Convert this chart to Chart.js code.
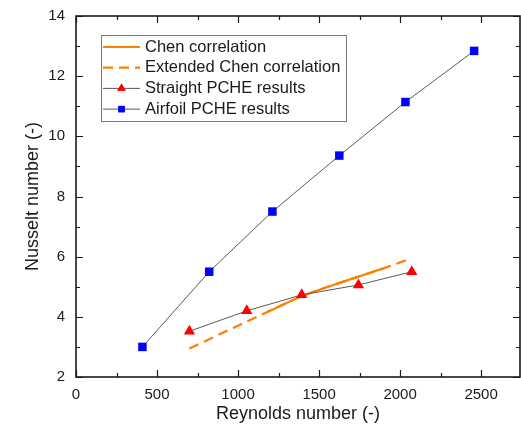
<!DOCTYPE html>
<html><head><meta charset="utf-8">
<script src="https://cdn.jsdelivr.net/npm/chart.js@4/dist/chart.umd.min.js"></script>
<style>html,body{margin:0;padding:0;background:#fff;overflow:hidden}canvas{display:block}</style>
</head><body>
<canvas id="c" width="521" height="431"></canvas>
<script>
// ---- data ----
const seriesNames = ['Chen correlation', 'Extended Chen correlation', 'Straight PCHE results', 'Airfoil PCHE results'];
const chenRe = [1177, 1400, 1650, 1897];
const chenNu = [4.15, 4.70, 5.17, 5.61];
const extRe = [700, 950, 1177, 1400, 1650, 1897, 2072];
const extNu = [2.95, 3.58, 4.15, 4.70, 5.17, 5.61, 5.95];
const straightRe = [700, 1054, 1393, 1743, 2072];
const straightNu = [3.52, 4.20, 4.73, 5.06, 5.50];
const airfoilRe = [410, 822, 1212, 1625, 2033, 2457];
const airfoilNu = [3.00, 5.50, 7.50, 9.36, 11.14, 12.84];
const xTitle = 'Reynolds number (-)';
const yTitle = 'Nusselt number (-)';
const xTickValues = [0, 250, 500, 750, 1000, 1250, 1500, 1750, 2000, 2250, 2500];
const xTickLabels = ['0', '', '500', '', '1000', '', '1500', '', '2000', '', '2500'];
const yTickValues = [2, 3, 4, 5, 6, 7, 8, 9, 10, 11, 12, 13, 14];
const yTickLabels = ['2', '', '4', '', '6', '', '8', '', '10', '', '12', '', '14'];
const xMin = 0, xMax = 2740, yMin = 2, yMax = 14;

const zip = (a, b) => a.map((v, i) => ({x: v, y: b[i]}));
const ORANGE = '#ff8000', GRAY = '#5a5a5a', FONT = "'Liberation Sans', Arial, sans-serif", INK = '#1a1a1a';

const framePlugin = {
  id: 'frame',
  afterDatasetsDraw(chart) {
    const {ctx, chartArea: a, scales: {x, y}} = chart;
    ctx.save();
    ctx.strokeStyle = INK;
    ctx.lineWidth = 1.2;
    ctx.beginPath();
    xTickValues.forEach((v, i) => {
      const px = Math.round(x.getPixelForValue(v)) + 0.5;
      const L = xTickLabels[i] !== '' ? 7 : 4;
      ctx.moveTo(px, a.bottom); ctx.lineTo(px, a.bottom - L);
      ctx.moveTo(px, a.top); ctx.lineTo(px, a.top + L);
    });
    yTickValues.forEach((v, i) => {
      const py = Math.round(y.getPixelForValue(v)) + 0.5;
      const L = yTickLabels[i] !== '' ? 7 : 4;
      ctx.moveTo(a.left, py); ctx.lineTo(a.left + L, py);
      ctx.moveTo(a.right, py); ctx.lineTo(a.right - L, py);
    });
    ctx.stroke();
    ctx.lineWidth = 1.6;
    ctx.strokeRect(a.left, a.top, a.right - a.left, a.bottom - a.top);
    ctx.restore();
  },
  afterDraw(chart) {
    const {ctx, chartArea: a} = chart;
    const bx = a.left + 25, by = a.top + 19, bw = 245, bh = 86;
    ctx.save();
    ctx.fillStyle = '#fff';
    ctx.fillRect(bx, by, bw, bh);
    ctx.strokeStyle = '#7a7a7a';
    ctx.lineWidth = 1;
    ctx.strokeRect(bx + 0.5, by + 0.5, bw, bh);
    const rowH = 20.7, x0 = bx + 2, x1 = bx + 39, xm = (x0 + x1) / 2;
    chart.data.datasets.forEach((ds) => {
      const idx = seriesNames.indexOf(ds.label);
      const cy = by + 12 + idx * rowH;
      ctx.save();
      ctx.strokeStyle = ds.borderColor;
      ctx.lineWidth = ds.borderWidth;
      ctx.setLineDash(ds.borderDash || []);
      ctx.beginPath(); ctx.moveTo(x0, cy); ctx.lineTo(x1, cy); ctx.stroke();
      ctx.setLineDash([]);
      if (ds.pointRadius > 0) {
        ctx.fillStyle = ds.pointBackgroundColor;
        Chart.helpers.drawPoint(ctx, {pointStyle: ds.pointStyle, radius: ds.pointRadius * 0.75, borderWidth: 0, rotation: 0}, xm, cy);
        ctx.fill();
      }
      ctx.restore();
      ctx.fillStyle = INK;
      ctx.font = '16.5px ' + FONT;
      ctx.textBaseline = 'middle';
      ctx.textAlign = 'left';
      ctx.fillText(ds.label, bx + 44, cy);
    });
    ctx.restore();
  }
};

new Chart(document.getElementById('c'), {
  type: 'line',
  data: {
    datasets: [
      {label: seriesNames[3], data: zip(airfoilRe, airfoilNu), borderColor: GRAY, borderWidth: 1,
       pointStyle: 'rect', pointRadius: 6, pointBackgroundColor: '#0000ff', pointBorderWidth: 0, tension: 0},
      {label: seriesNames[2], data: zip(straightRe, straightNu), borderColor: GRAY, borderWidth: 1,
       pointStyle: 'triangle', pointRadius: 6.5, pointBackgroundColor: '#ff0000', pointBorderWidth: 0, tension: 0},
      {label: seriesNames[0], data: zip(chenRe, chenNu), borderColor: ORANGE, borderWidth: 2.2,
       pointRadius: 0, cubicInterpolationMode: 'monotone'},
      {label: seriesNames[1], data: zip(extRe, extNu), borderColor: ORANGE, borderWidth: 2.2, borderDash: [10, 6],
       pointRadius: 0, cubicInterpolationMode: 'monotone'}
    ]
  },
  options: {
    responsive: false, animation: false, devicePixelRatio: 1,
    layout: {autoPadding: false, padding: {top: 16, right: 1, left: 0, bottom: 0}},
    plugins: {legend: {display: false}, tooltip: {enabled: false}},
    scales: {
      x: {
        type: 'linear', min: xMin, max: xMax,
        afterBuildTicks(s) { s.ticks = xTickValues.map(v => ({value: v})); },
        afterFit(s) { s.height = 54; s.paddingLeft = 0; s.paddingRight = 0; },
        grid: {display: false, drawTicks: false}, border: {display: false},
        ticks: {autoSkip: false, maxRotation: 0, minRotation: 0, padding: 9, color: INK,
                font: {family: FONT, size: 15},
                callback: (v, i) => xTickLabels[i]},
        title: {display: true, text: xTitle, color: INK, font: {family: FONT, size: 18}, padding: {top: 0, bottom: 6}}
      },
      y: {
        type: 'linear', min: yMin, max: yMax,
        afterBuildTicks(s) { s.ticks = yTickValues.map(v => ({value: v})); },
        afterFit(s) { s.width = 76; s.paddingTop = 0; s.paddingBottom = 0; },
        grid: {display: false, drawTicks: false}, border: {display: false},
        ticks: {autoSkip: false, padding: 11, color: INK,
                font: {family: FONT, size: 15},
                callback: (v, i) => yTickLabels[i]},
        title: {display: true, text: yTitle, color: INK, font: {family: FONT, size: 18}, padding: {top: 22, bottom: 0}}
      }
    }
  },
  plugins: [framePlugin]
});
</script></body></html>
